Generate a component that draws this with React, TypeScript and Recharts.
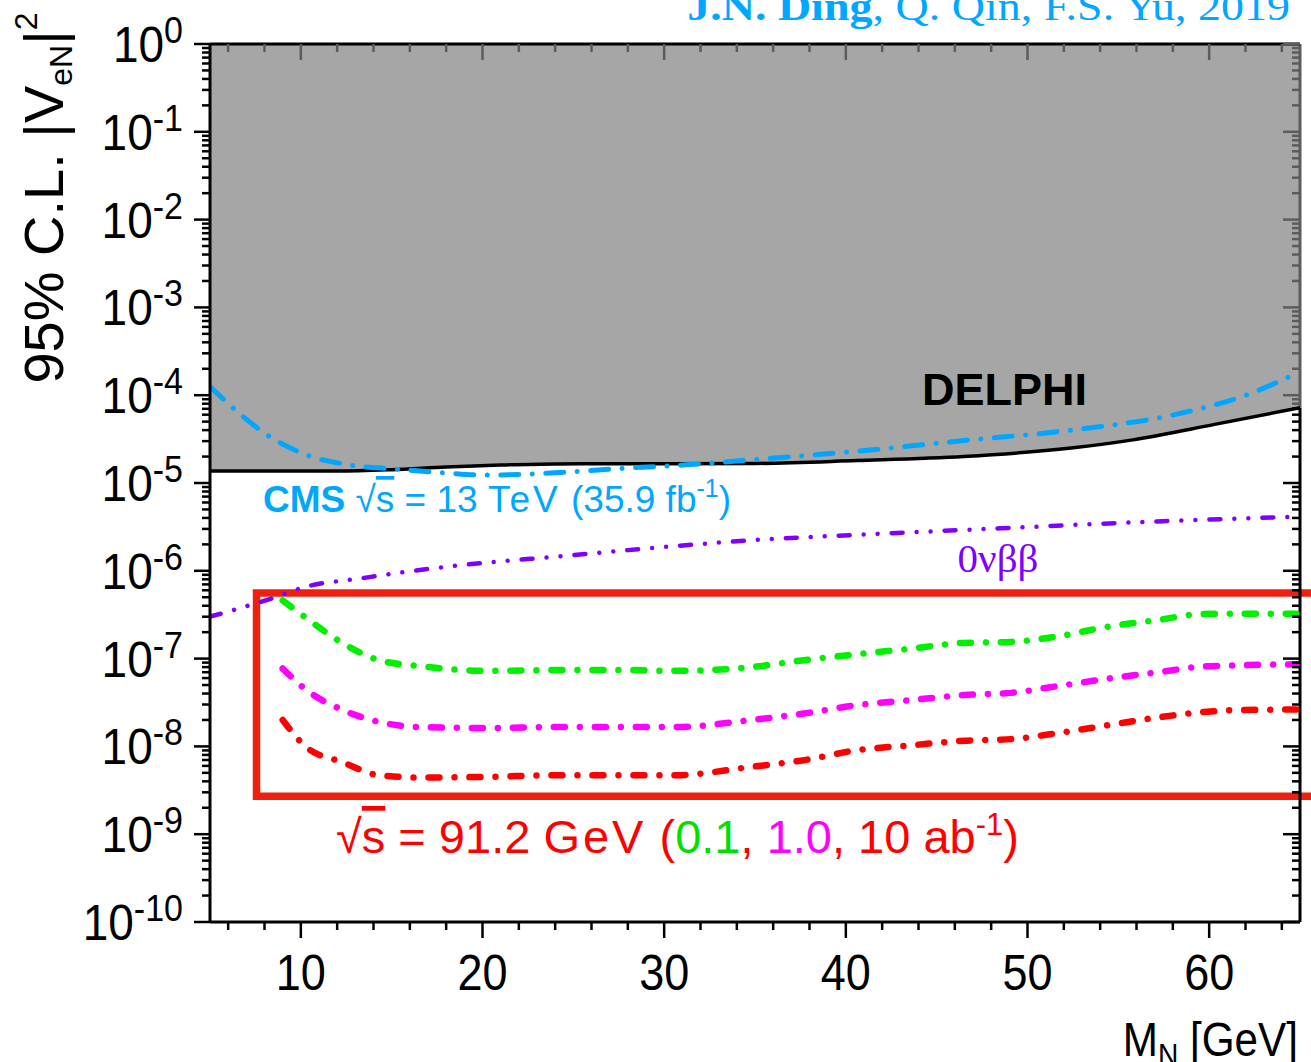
import React from 'react';
import {
  ComposedChart,
  Line,
  Area,
  XAxis,
  YAxis,
  ReferenceArea,
  ReferenceLine,
} from 'recharts';

const W = 1311;
const H = 1062;

const SANS = '"Liberation Sans", Arial, Helvetica, sans-serif';
const SERIF = '"Liberation Serif", "Times New Roman", serif';

// DELPHI 95% C.L. exclusion boundary (region above is excluded)
const delphiMass = [5, 12, 15, 18, 21, 24, 30, 35, 40.6, 46.5, 52.4, 55.8, 60.3, 65];
const delphiLimit = [1.37e-5, 1.37e-5, 1.42e-5, 1.52e-5, 1.6e-5, 1.65e-5, 1.66e-5, 1.67e-5, 1.8e-5, 2.0e-5, 2.5e-5, 3.1e-5, 4.65e-5, 7.2e-5];

// CMS, sqrt(s) = 13 TeV, 35.9 fb^-1
const cmsMass = [5, 6.4, 8, 10.3, 12.7, 15.25, 17.8, 20.2, 22.1, 25.1, 28, 31, 35, 40.6, 46.5, 52.4, 58.4, 62.3, 65];
const cmsLimit = [1.25e-4, 6.8e-5, 3.7e-5, 2.09e-5, 1.6e-5, 1.44e-5, 1.31e-5, 1.23e-5, 1.25e-5, 1.35e-5, 1.48e-5, 1.6e-5, 1.85e-5, 2.3e-5, 3.05e-5, 4.0e-5, 6.2e-5, 1.05e-4, 1.86e-4];

// neutrinoless double beta decay
const onbbMass = [5, 8.4, 10.3, 13.3, 16.2, 20.2, 24.1, 28, 35, 42, 48.5, 56.4, 65];
const onbbLimit = [3.0e-7, 4.85e-7, 6.6e-7, 8.2e-7, 1.0e-6, 1.24e-6, 1.45e-6, 1.72e-6, 2.24e-6, 2.65e-6, 3.05e-6, 3.6e-6, 4.15e-6];

// Z-pole sensitivity, sqrt(s) = 91.2 GeV
const zpoleMass = [9.0, 10.3, 12.3, 14.3, 16.6, 20.2, 24.1, 28, 30.6, 34.8, 37.7, 40.6, 43.6, 46.5, 49.1, 51.5, 54.4, 57.4, 59.4, 61.3, 64.8];
const zpoleLumi01 = [4.6e-7, 2.9e-7, 1.5e-7, 9.6e-8, 8.2e-8, 7.25e-8, 7.4e-8, 7.4e-8, 7.25e-8, 8.0e-8, 9.6e-8, 1.12e-7, 1.3e-7, 1.51e-7, 1.55e-7, 1.77e-7, 2.3e-7, 2.8e-7, 3.2e-7, 3.25e-7, 3.25e-7];
const zpoleLumi1 = [7.7e-8, 4.4e-8, 2.6e-8, 1.9e-8, 1.66e-8, 1.62e-8, 1.66e-8, 1.66e-8, 1.66e-8, 2.0e-8, 2.37e-8, 2.95e-8, 3.37e-8, 3.84e-8, 4.07e-8, 4.8e-8, 5.9e-8, 7.1e-8, 8.05e-8, 8.35e-8, 8.6e-8];
const zpoleLumi10 = [2.0e-8, 9.8e-9, 6.6e-9, 4.7e-9, 4.43e-9, 4.5e-9, 4.7e-9, 4.7e-9, 4.7e-9, 5.85e-9, 6.97e-9, 9.05e-9, 1.03e-8, 1.16e-8, 1.21e-8, 1.4e-8, 1.74e-8, 2.17e-8, 2.43e-8, 2.58e-8, 2.63e-8];

// highlight box around the Z-pole curves
const boxMass = [7.56, 66];
const boxLimit = [2.7e-9, 5.6e-7];

// axes
const massDomain = [5, 65];
const massMajorTicks = [10, 20, 30, 40, 50, 60];
const mixingDecades = [0, -1, -2, -3, -4, -5, -6, -7, -8, -9, -10];
const mixingDomain = [1e-10, 1];

const massTicks: number[] = [];
for (let m = 6; m <= 64; m += 2) massTicks.push(m);

const mixingTicks: number[] = [];
mixingDecades.forEach((e) => {
  mixingTicks.push(Math.pow(10, e));
  if (e < 0) {
    for (let k = 2; k <= 9; k++) mixingTicks.push(k * Math.pow(10, e));
  }
});

const toPoints = (xs: number[], vs: number[]) => xs.map((x, i) => ({ x, v: vs[i] }));

const delphiData = toPoints(delphiMass, delphiLimit);
const cmsData = toPoints(cmsMass, cmsLimit);
const onbbData = toPoints(onbbMass, onbbLimit);
const lumi01Data = toPoints(zpoleMass, zpoleLumi01);
const lumi1Data = toPoints(zpoleMass, zpoleLumi1);
const lumi10Data = toPoints(zpoleMass, zpoleLumi10);

const delphiEdge = delphiLimit[delphiLimit.length - 1];
const TICK_GRAY = '#5c5c5c';

const decadeOf = (v: number) => {
  const l = Math.log10(v);
  const e = Math.round(l);
  return { e, major: Math.abs(l - e) < 1e-6 };
};

const renderBottomTick = (p: any) => {
  const { x, y, payload } = p;
  const v = payload.value;
  const major = massMajorTicks.includes(v);
  return (
    <g>
      <line x1={x} x2={x} y1={y} y2={y + (major ? 16 : 8)} stroke="#000" strokeWidth={2.5} />
      {major && (
        <text
          transform={`translate(${x},${y + 68}) scale(0.9,1)`}
          textAnchor="middle"
          fontFamily={SANS}
          fontSize={50}
          fill="#000"
        >
          {v}
        </text>
      )}
    </g>
  );
};

const renderTopTick = (p: any) => {
  const { x, y, payload } = p;
  const major = massMajorTicks.includes(payload.value);
  return <line x1={x} x2={x} y1={y} y2={y + (major ? 16 : 8)} stroke={TICK_GRAY} strokeWidth={2.5} />;
};

const renderLeftTick = (p: any) => {
  const { x, y, payload } = p;
  const { e, major } = decadeOf(payload.value);
  return (
    <g>
      <line x1={x} x2={x - (major ? 16 : 8)} y1={y} y2={y} stroke="#000" strokeWidth={2.5} />
      {major && (
        <text
          transform={`translate(183,${y + 18}) scale(0.92,1)`}
          textAnchor="end"
          fontFamily={SANS}
          fill="#000"
        >
          <tspan fontSize={50}>10</tspan>
          <tspan fontSize={37} dy={-19}>{e === 0 ? '0' : `-${-e}`}</tspan>
        </text>
      )}
    </g>
  );
};

const renderRightTick = (p: any) => {
  const { x, y, payload } = p;
  const v = payload.value;
  const { major } = decadeOf(v);
  return (
    <line
      x1={x}
      x2={x - (major ? 17 : 8)}
      y1={y}
      y2={y}
      stroke={v > delphiEdge ? TICK_GRAY : '#000'}
      strokeWidth={2.5}
    />
  );
};

function Annotations() {
  return (
    <svg
      width={W}
      height={H}
      style={{ position: 'absolute', left: 0, top: 0, pointerEvents: 'none' }}
    >
      <text
        transform="translate(1290,20) scale(1.15,1)"
        textAnchor="end"
        fontFamily={SERIF}
        fontSize={40}
        fill="#00a6ff"
      >
        <tspan fontWeight="bold">J.N. Ding</tspan>
        <tspan>, Q. Qin, F.S. Yu, 2019</tspan>
      </text>

      <text
        transform="translate(63,198) rotate(-90)"
        textAnchor="middle"
        fontFamily={SANS}
        fontSize={56}
        fill="#000"
      >
        <tspan>95% C.L. |V</tspan>
        <tspan fontSize={32} dy={9}>eN</tspan>
        <tspan dy={-9}>|</tspan>
        <tspan fontSize={32} dy={-26}>2</tspan>
      </text>

      <text
        transform="translate(1298,1056) scale(0.88,1)"
        textAnchor="end"
        fontFamily={SANS}
        fontSize={48}
        fill="#000"
      >
        <tspan>M</tspan>
        <tspan fontSize={32} dy={10}>N</tspan>
        <tspan dy={-10}>{' [GeV]'}</tspan>
      </text>

      <text x={922} y={405} fontFamily={SANS} fontSize={45} fontWeight="bold" fill="#000">
        DELPHI
      </text>

      <text x={263} y={512} fontFamily={SANS} fontSize={37} fill="#00a6ff">
        <tspan fontWeight="bold">CMS</tspan>
        <tspan>{' √'}</tspan>
        <tspan style={{ textDecoration: 'overline' }}>s</tspan>
        <tspan>{' = 13 '}</tspan>
        <tspan letterSpacing={3}>TeV</tspan>
        <tspan>{' (35.9 fb'}</tspan>
        <tspan fontSize={25} dy={-15}>-1</tspan>
        <tspan dy={15}>)</tspan>
      </text>

      <text x={998} y={572} textAnchor="middle" fontFamily={SERIF} fontSize={41} fill="#8000ff">
        0νββ
      </text>

      <text x={336} y={853} fontFamily={SANS} fontSize={47} fill="#ff0000">
        <tspan>√</tspan>
        <tspan style={{ textDecoration: 'overline' }}>s</tspan>
        <tspan>{' = 91.2 '}</tspan>
        <tspan letterSpacing={3}>GeV</tspan>
        <tspan>{' ('}</tspan>
        <tspan fill="#00e000">0.1</tspan>
        <tspan>{', '}</tspan>
        <tspan fill="#ff00ff">1.0</tspan>
        <tspan>{', 10 ab'}</tspan>
        <tspan fontSize={31} dy={-18}>-1</tspan>
        <tspan dy={18}>)</tspan>
      </text>
    </svg>
  );
}

export default function App() {
  return (
    <div
      style={{
        position: 'absolute',
        left: 0,
        top: 0,
        width: W,
        height: H,
        overflow: 'hidden',
        background: '#fff',
      }}
    >
      <ComposedChart width={W} height={H} margin={{ top: 43, right: 10, bottom: 40, left: 90 }}>
        <XAxis
          xAxisId="b"
          type="number"
          dataKey="x"
          domain={massDomain}
          allowDataOverflow
          ticks={massTicks}
          interval={0}
          tick={renderBottomTick}
          tickLine={false}
          tickSize={0}
          tickMargin={0}
          axisLine={{ stroke: '#000', strokeWidth: 3 }}
          height={100}
        />
        <XAxis
          xAxisId="t"
          orientation="top"
          type="number"
          dataKey="x"
          domain={massDomain}
          allowDataOverflow
          ticks={massTicks}
          interval={0}
          tick={renderTopTick}
          tickLine={false}
          tickSize={0}
          tickMargin={0}
          axisLine={{ stroke: '#000', strokeWidth: 3 }}
          height={1}
        />
        <YAxis
          yAxisId="l"
          type="number"
          scale="log"
          domain={mixingDomain}
          allowDataOverflow
          ticks={mixingTicks}
          interval={0}
          tick={renderLeftTick}
          tickLine={false}
          tickSize={0}
          tickMargin={0}
          axisLine={{ stroke: '#000', strokeWidth: 3 }}
          width={120}
        />
        <YAxis
          yAxisId="r"
          orientation="right"
          type="number"
          scale="log"
          domain={mixingDomain}
          allowDataOverflow
          ticks={mixingTicks}
          interval={0}
          tick={renderRightTick}
          tickLine={false}
          tickSize={0}
          tickMargin={0}
          axisLine={false}
          width={1}
        />

        <Area
          xAxisId="b"
          yAxisId="l"
          data={delphiData}
          dataKey="v"
          type="monotone"
          baseValue="dataMax"
          fill="#a6a6a6"
          fillOpacity={1}
          stroke="none"
          dot={false}
          activeDot={false}
          isAnimationActive={false}
        />

        <ReferenceLine
          xAxisId="b"
          yAxisId="l"
          segment={[{ x: massDomain[1], y: mixingDomain[0] }, { x: massDomain[1], y: delphiEdge }]}
          stroke="#000"
          strokeWidth={3}
        />
        <ReferenceLine
          xAxisId="b"
          yAxisId="l"
          segment={[{ x: massDomain[1], y: delphiEdge }, { x: massDomain[1], y: mixingDomain[1] }]}
          stroke={TICK_GRAY}
          strokeWidth={3}
        />

        <Line
          xAxisId="b"
          yAxisId="l"
          data={delphiData}
          dataKey="v"
          type="monotone"
          stroke="#000"
          strokeWidth={3.5}
          dot={false}
          activeDot={false}
          isAnimationActive={false}
        />
        <Line
          xAxisId="b"
          yAxisId="l"
          data={cmsData}
          dataKey="v"
          type="monotone"
          stroke="#00a6ff"
          strokeWidth={5}
          strokeDasharray="18 13.5 0.001 13.5"
          strokeLinecap="round"
          dot={false}
          activeDot={false}
          isAnimationActive={false}
        />
        <Line
          xAxisId="b"
          yAxisId="l"
          data={onbbData}
          dataKey="v"
          type="monotone"
          stroke="#8000ff"
          strokeWidth={4.5}
          strokeDasharray="11 14 0.001 14 0.001 14"
          strokeLinecap="round"
          dot={false}
          activeDot={false}
          isAnimationActive={false}
        />

        <ReferenceArea
          xAxisId="b"
          yAxisId="l"
          x1={boxMass[0]}
          x2={boxMass[1]}
          y1={boxLimit[0]}
          y2={boxLimit[1]}
          ifOverflow="visible"
          fill="none"
          fillOpacity={0}
          stroke="#ee2010"
          strokeWidth={7.5}
        />

        <Line
          xAxisId="b"
          yAxisId="l"
          data={lumi01Data}
          dataKey="v"
          type="monotone"
          stroke="#00f000"
          strokeWidth={6.5}
          strokeDasharray="11 15 0.001 15"
          strokeLinecap="round"
          dot={false}
          activeDot={false}
          isAnimationActive={false}
        />
        <Line
          xAxisId="b"
          yAxisId="l"
          data={lumi1Data}
          dataKey="v"
          type="monotone"
          stroke="#ff00ff"
          strokeWidth={6.5}
          strokeDasharray="11 15 0.001 15"
          strokeLinecap="round"
          dot={false}
          activeDot={false}
          isAnimationActive={false}
        />
        <Line
          xAxisId="b"
          yAxisId="l"
          data={lumi10Data}
          dataKey="v"
          type="monotone"
          stroke="#ff0000"
          strokeWidth={6.5}
          strokeDasharray="11 15 0.001 15"
          strokeLinecap="round"
          dot={false}
          activeDot={false}
          isAnimationActive={false}
        />
      </ComposedChart>
      <Annotations />
    </div>
  );
}
